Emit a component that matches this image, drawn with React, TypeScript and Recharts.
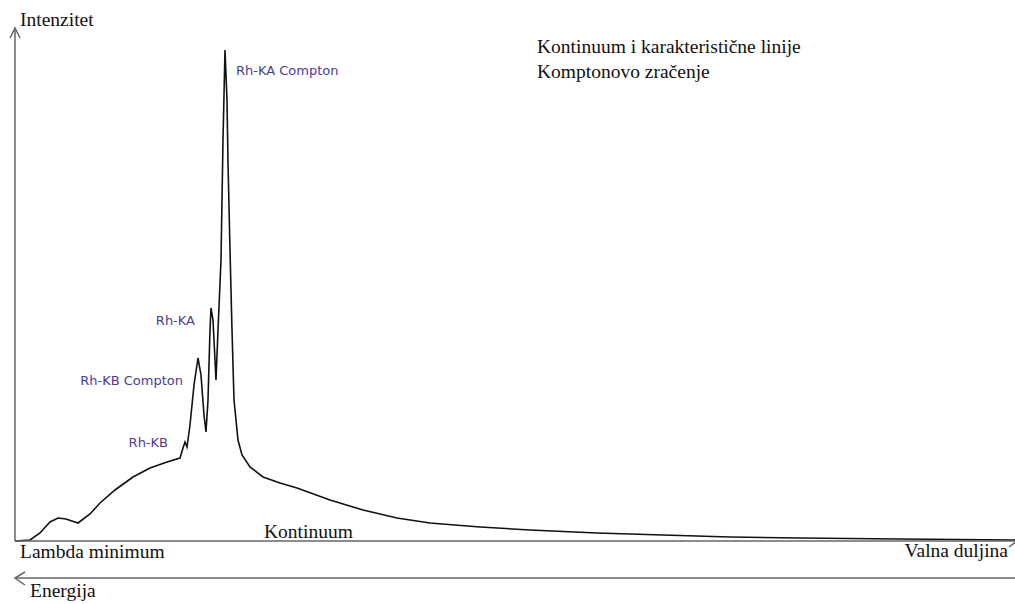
import { LineChart, Line, XAxis, YAxis, ReferenceDot } from 'recharts';

// wavelength (arbitrary units, 0 = lambda minimum) and measured intensity
const wavelength = [
  0, 15, 25, 35, 43, 51, 63, 75, 85, 100, 118, 135, 152, 165, 168, 170, 172, 175, 179, 183,
  186, 189, 191, 193, 195, 196, 198, 201, 203, 206, 208, 210, 212, 213, 215, 217, 219, 223,
  227, 235, 248, 265, 282, 315, 348, 382, 415, 465, 515, 582, 648, 715, 785, 885, 1000,
];
const intensity = [
  0, 1, 8, 19, 23, 22, 18, 27, 38, 51, 64, 73, 79, 83, 93, 99, 94, 116, 156, 183,
  166, 126, 109, 141, 211, 233, 221, 161, 211, 281, 401, 491, 441, 378, 291, 211, 141, 101,
  86, 74, 64, 58, 53, 41, 31, 23, 18, 14, 11, 8, 6, 4, 3, 2, 1,
];

const peakNames = ['Rh-KB', 'Rh-KB Compton', 'Rh-KA', 'Rh-KA Compton'];
const peakWavelength = [170, 183, 196, 210];
const peakIntensity = [99, 183, 233, 491];

const data = wavelength.map((w, i) => ({ w, v: intensity[i] }));

// label placement relative to the peak top
const labelOffsets = [
  { dx: -17, dy: 5, anchor: 'end' },
  { dx: -15, dy: 27, anchor: 'end' },
  { dx: -16, dy: 17, anchor: 'end' },
  { dx: 11, dy: 25, anchor: 'start' },
];

const W = 1015;
const H = 604;
const AXIS = '#666';
const LABEL = '#4b3c93';
const SERIF = "'Liberation Serif', 'Times New Roman', serif";

export default function App() {
  return (
    <div style={{ position: 'absolute', left: 0, top: 0, width: W, height: H, background: '#fff' }}>
      <LineChart
        width={W}
        height={H}
        data={data}
        margin={{ top: 28, right: 0, bottom: 63, left: 15 }}
      >
        <XAxis dataKey="w" type="number" domain={[0, 1000]} hide />
        <YAxis type="number" domain={[0, 513]} hide />
        <Line
          type="linear"
          dataKey="v"
          stroke="#111"
          strokeWidth={1.6}
          dot={false}
          isAnimationActive={false}
        />
        {peakNames.map((name, i) => (
          <ReferenceDot
            key={name}
            x={peakWavelength[i]}
            y={peakIntensity[i]}
            r={0}
            shape={(p: any) => (
              <text
                x={p.cx + labelOffsets[i].dx}
                y={p.cy + labelOffsets[i].dy}
                textAnchor={labelOffsets[i].anchor as any}
                fill={LABEL}
                fontFamily="'DejaVu Sans', Verdana, sans-serif"
                fontSize={13}
              >
                {name}
              </text>
            )}
          />
        ))}
      </LineChart>
      <svg
        width={W}
        height={H}
        style={{ position: 'absolute', left: 0, top: 0, pointerEvents: 'none' }}
      >
        <g stroke={AXIS} strokeWidth={1.5} fill="none">
          {/* axes */}
          <line x1={15} y1={28} x2={15} y2={541} />
          <line x1={15} y1={541} x2={1015} y2={541} />
          <polyline points="10,38 15,28 20,38" />
          <line x1={1017} y1={541} x2={1009} y2={547} />
          {/* energy arrow */}
          <line x1={15} y1={578} x2={1015} y2={578} />
          <polyline points="25,572 15,578 25,585" />
        </g>
        <g fontFamily={SERIF} fontSize={19.5} fill="#111">
          <text x={20} y={26}>Intenzitet</text>
          <text x={537} y={53}>Kontinuum i karakteristične linije</text>
          <text x={537} y={78}>Komptonovo zračenje</text>
          <text x={264} y={538}>Kontinuum</text>
          <text x={20} y={558}>Lambda minimum</text>
          <text x={1008} y={557} textAnchor="end">Valna duljina</text>
          <text x={30} y={597}>Energija</text>
        </g>
      </svg>
    </div>
  );
}
